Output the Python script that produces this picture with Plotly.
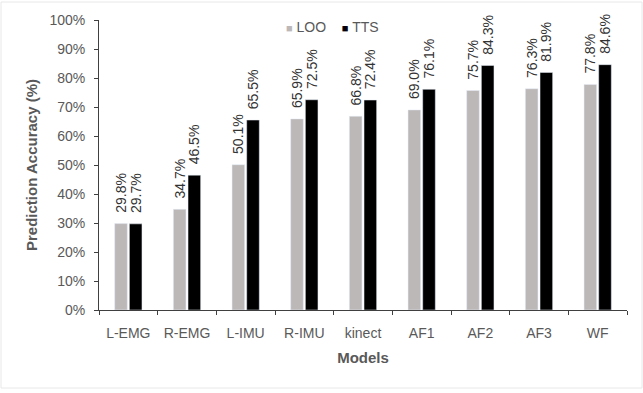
import plotly.graph_objects as go

models = ["L-EMG", "R-EMG", "L-IMU", "R-IMU", "kinect", "AF1", "AF2", "AF3", "WF"]
loo = [29.8, 34.7, 50.1, 65.9, 66.8, 69.0, 75.7, 76.3, 77.8]
tts = [29.7, 46.5, 65.5, 72.5, 72.4, 76.1, 84.3, 81.9, 84.6]
yticks = [0, 10, 20, 30, 40, 50, 60, 70, 80, 90, 100]
series = [("LOO", loo, "#bdb8b8"), ("TTS", tts, "#000000")]

FONT = "Liberation Sans"
GRAY = "#595959"
NB = "\u00a0"

fig = go.Figure()
for name, vals, color in series:
    fig.add_trace(go.Bar(
        x=models, y=vals, name=name, marker_color=color, showlegend=False,
        text=[f"{NB}{NB}{v:.1f}%" for v in vals], textposition="outside", textangle=-90,
        textfont=dict(family=FONT, size=14, color="#333333"), cliponaxis=False,
    ))

fig.update_layout(
    width=643, height=393,
    margin=dict(l=99, r=16, t=20, b=83),
    paper_bgcolor="white", plot_bgcolor="white",
    barmode="group", bargap=0.5, bargroupgap=0.14,
    font=dict(family=FONT, size=14, color=GRAY),
    uniformtext=dict(minsize=14, mode="show"),
)
legend_text = (NB * 4).join(
    f"<span style='color:{c};font-size:11px'>■</span>{NB}{n}" for n, _, c in series
)
fig.add_annotation(xref="paper", yref="paper", x=(284 - 99) / 528, y=(310 - 27) / 290,
                   xanchor="left", yanchor="middle", showarrow=False,
                   text=legend_text, font=dict(family=FONT, size=14, color=GRAY))
fig.update_yaxes(
    range=[0, 100], tickvals=yticks, ticktext=[f"{v}%" for v in yticks],
    showgrid=False, zeroline=False, showline=True, linecolor="#404040", linewidth=1,
    ticks="outside", ticklen=4, tickcolor="#404040", ticklabelstandoff=6,
    tickfont=dict(family=FONT, size=14, color=GRAY),
    title=dict(text="<b>Prediction Accuracy (%)</b>", font=dict(family=FONT, size=15, color=GRAY), standoff=8),
)
fig.update_xaxes(
    showgrid=False, showline=True, linecolor="#404040", linewidth=1,
    ticks="outside", ticklen=4, tickcolor="#404040", tickson="boundaries",
    ticklabelstandoff=10,
    tickfont=dict(family=FONT, size=14, color=GRAY),
    title=dict(text="<b>Models</b>", font=dict(family=FONT, size=15, color=GRAY), standoff=12),
)
fig.add_shape(type="rect", xref="paper", yref="paper",
              x0=-98/528, x1=1+15/528, y0=-78/290, y1=1+18/290,
              line=dict(color="#e8e8e8", width=1), layer="below")

fig.write_html("out.html")
